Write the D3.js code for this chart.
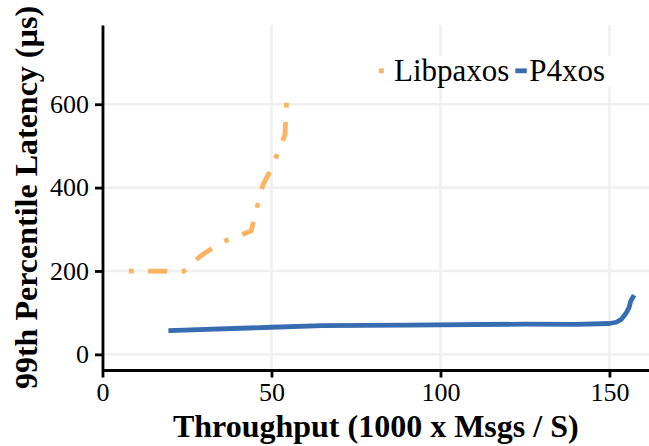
<!DOCTYPE html>
<html>
<head>
<meta charset="utf-8">
<script src="https://cdn.jsdelivr.net/npm/d3@7"></script>
<style>
  html, body { margin: 0; padding: 0; background: #fff; }
  svg { display: block; }
</style>
</head>
<body>
<svg id="chart" width="649" height="446"></svg>
<script>
// ---- data ----
const seriesNames = ["Libpaxos", "P4xos"];
const seriesColors = ["#fdb462", "#386cb0"];
const libpaxosX = [7.8, 24, 29, 35, 44, 45, 47.5, 50, 54, 54.5];
const libpaxosY = [200, 199, 236, 268, 296, 330, 408, 446, 527, 613];
const p4xosX = [19.5, 50, 65, 90, 125, 140, 150, 152, 153.5, 155, 155.8, 156.3, 157.3];
const p4xosY = [57, 65, 69, 70, 72.5, 72, 74, 77, 84, 100, 112, 128, 142];
const xTicks = [0, 50, 100, 150];
const yTicks = [0, 200, 400, 600];
const yGrid = [0, 200, 400, 600];
const xTitle = "Throughput (1000 x Msgs / S)";
const yTitle = "99th Percentile Latency (µs)";

// ---- layout ----
(function () {
const mLeft = 102.5, mRight = 649, mTop = 25, mBottom = 370;
const svg = d3.select("#chart");
const x = d3.scaleLinear().domain([0, 161.7]).range([mLeft, mRight]);
const y = d3.scaleLinear().domain([-37.5, 790]).range([mBottom, mTop]);
const serif = "'Liberation Serif', 'Times New Roman', serif";
const lw = 4.8;
const dotdash = [lw * 1, lw * 3, lw * 4, lw * 3].join(",");

// grid
const grid = svg.append("g");
grid.selectAll("line.h").data(yGrid).join("line").attr("class", "h")
  .attr("x1", x.range()[0]).attr("x2", x.range()[1])
  .attr("y1", d => y(d)).attr("y2", d => y(d))
  .attr("stroke", "#f0f0f0").attr("stroke-width", 2.6);
grid.selectAll("line.v").data(xTicks).join("line").attr("class", "v")
  .attr("x1", d => x(d)).attr("x2", d => x(d))
  .attr("y1", y.range()[0]).attr("y2", y.range()[1])
  .attr("stroke", "#f0f0f0").attr("stroke-width", 2.6);

// lines
const series = [
  { name: seriesNames[0], color: seriesColors[0], dash: dotdash,
    pts: libpaxosX.map((v, i) => [v, libpaxosY[i]]) },
  { name: seriesNames[1], color: seriesColors[1], dash: null,
    pts: p4xosX.map((v, i) => [v, p4xosY[i]]) }
];
const line = d3.line().x(d => x(d[0])).y(d => y(d[1]));
svg.append("g").selectAll("path").data(series).join("path")
  .attr("d", d => line(d.pts))
  .attr("fill", "none")
  .attr("stroke", d => d.color)
  .attr("stroke-width", lw)
  .attr("stroke-linejoin", "round")
  .attr("stroke-dasharray", d => d.dash);

// axes
const xAxis = d3.axisBottom(x).tickValues(xTicks).tickSize(7.5).tickPadding(5).tickSizeOuter(0);
const yAxis = d3.axisLeft(y).tickValues(yTicks).tickSize(7.5).tickPadding(6).tickSizeOuter(0);
const gx = svg.append("g").attr("transform", `translate(0,${mBottom})`).call(xAxis);
const gy = svg.append("g").attr("transform", `translate(${mLeft},0)`).call(yAxis);
[gx, gy].forEach(g => {
  g.select(".domain").attr("stroke", "#000").attr("stroke-width", 2.8);
  g.selectAll(".tick line").attr("stroke", "#000").attr("stroke-width", 2.8);
  g.selectAll(".tick text").attr("fill", "#000")
    .style("font-family", serif).style("font-size", "26px");
});

// axis titles
svg.append("text")
  .attr("x", (mLeft + mRight) / 2).attr("y", 437)
  .attr("text-anchor", "middle")
  .style("font-family", serif).style("font-size", "32px").style("font-weight", "bold")
  .text(xTitle);
svg.append("text")
  .attr("transform", `translate(37,${(mTop + mBottom) / 2}) rotate(-90)`)
  .attr("text-anchor", "middle")
  .style("font-family", serif).style("font-size", "32px").style("font-weight", "bold")
  .text(yTitle);

// legend
const legend = svg.append("g");
legend.append("rect").attr("x", 376).attr("y", 56).attr("width", 236).attr("height", 31).attr("fill", "#fff");
const keyX = [379, 515.3];
const textX = [394, 529.3];
const items = legend.selectAll("g.item").data(series).join("g").attr("class", "item");
items.append("line")
  .attr("x1", (d, i) => keyX[i]).attr("x2", (d, i) => keyX[i] + 11.5)
  .attr("y1", 70.8).attr("y2", 70.8)
  .attr("stroke", d => d.color).attr("stroke-width", lw)
  .attr("stroke-dasharray", d => d.dash);
items.append("text")
  .attr("x", (d, i) => textX[i]).attr("y", 80.7)
  .style("font-family", serif).style("font-size", "31px")
  .text(d => d.name);
})();
</script>
</body>
</html>
